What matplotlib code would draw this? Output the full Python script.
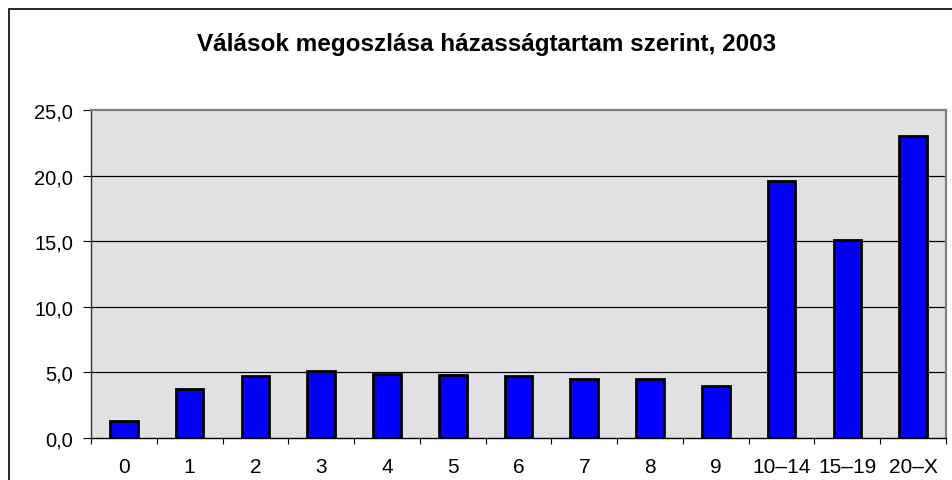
import matplotlib
matplotlib.use("Agg")
import matplotlib.pyplot as plt
from matplotlib.patches import Rectangle
from matplotlib.ticker import FixedLocator, FuncFormatter
import numpy as np

categories = ["0", "1", "2", "3", "4", "5", "6", "7", "8", "9", "10–14", "15–19", "20–X"]
values = [1.3, 3.7, 4.7, 5.1, 4.9, 4.8, 4.7, 4.5, 4.5, 4.0, 19.6, 15.1, 23.0]
title = "Válások megoszlása házasságtartam szerint, 2003"
yticks = [0, 5, 10, 15, 20, 25]

plt.rcParams['font.family'] = ['Liberation Sans', 'DejaVu Sans']

W, H = 952, 481
fig = plt.figure(figsize=(W / 100, H / 100), dpi=100)
fig.patch.set_facecolor('white')

# outer chart frame (cut off at right and bottom)
fig.add_artist(Rectangle((9 / W, -0.1), 1.1, 1 - 10 / H + 0.1, transform=fig.transFigure,
                         fill=False, edgecolor='black', linewidth=1.2))

ax = fig.add_axes([91 / W, 42 / H, 855 / W, 328 / H])
ax.set_facecolor('#e1e1e1')
x = np.arange(len(categories))
ax.bar(x, values, width=0.42, color='#0000ff', edgecolor='black', linewidth=2.0, zorder=3)

ax.set_xlim(-0.5, len(categories) - 0.5)
ax.set_ylim(0, 25)
ax.set_yticks(yticks)
ax.yaxis.set_major_formatter(FuncFormatter(lambda v, p: f"{v:.1f}".replace('.', ',')))
for y in yticks[1:-1]:
    ax.axhline(y, color='black', linewidth=0.9, zorder=2)

ax.set_xticks(x)
ax.set_xticklabels(categories)
ax.xaxis.set_minor_locator(FixedLocator(np.arange(-0.5, len(categories), 1.0)))
ax.tick_params(axis='x', which='major', length=0, pad=13.5, labelsize=15)
ax.tick_params(axis='x', which='minor', length=4.5, width=0.8, direction='out')
ax.tick_params(axis='y', which='major', length=6, width=0.8, pad=7, labelsize=14.5)

for s in ['top', 'right']:
    ax.spines[s].set_color('#808080')
    ax.spines[s].set_linewidth(1.6)
ax.spines['left'].set_color('#303030')
ax.spines['left'].set_linewidth(1.0)
ax.spines['bottom'].set_color('black')
ax.spines['bottom'].set_linewidth(1.0)

fig.text(0.511, 1 - 45 / H, title, ha='center', va='center', fontsize=17.5, fontweight='bold')

fig.savefig('out.png', dpi=100)
